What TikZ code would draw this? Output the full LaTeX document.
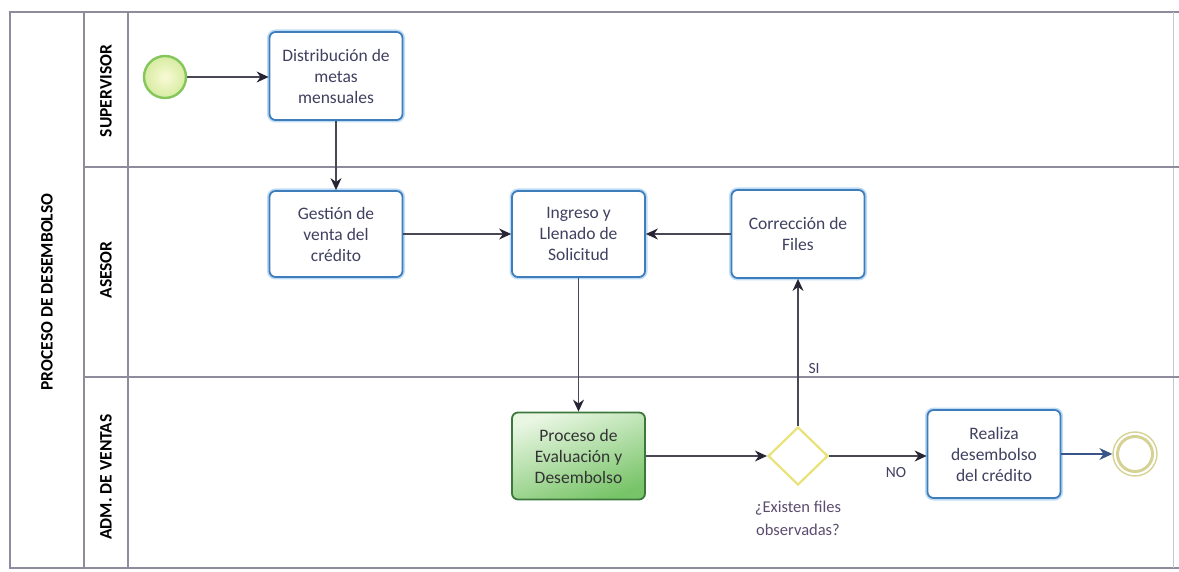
\documentclass[tikz,border=0pt]{standalone}
\usepackage{fontspec}
\setmainfont{Carlito}
\usetikzlibrary{arrows.meta,shapes.geometric,calc}

\definecolor{poolline}{RGB}{140,140,156}
\definecolor{taskblue}{RGB}{62,124,186}
\definecolor{taskglow}{RGB}{190,220,245}
\definecolor{tasktext}{RGB}{64,64,96}
\definecolor{flowline}{RGB}{72,72,84}
\definecolor{tipcolor}{RGB}{40,36,52}
\definecolor{greenedge}{RGB}{60,120,60}
\definecolor{greenlight}{RGB}{232,246,226}
\definecolor{greendark}{RGB}{120,196,104}
\definecolor{startedge}{RGB}{132,198,92}
\definecolor{startin}{RGB}{250,250,214}
\definecolor{startout}{RGB}{214,236,160}
\definecolor{endring}{RGB}{214,210,150}
\definecolor{gwedge}{RGB}{232,226,120}
\definecolor{labeltext}{RGB}{90,76,110}
\definecolor{endarrow}{RGB}{56,84,136}

\tikzset{
  lanetitle/.style={font=\fontsize{17.5}{19}\selectfont\bfseries, text=black, rotate=90},
  taskbox/.style={draw=taskblue, line width=1.8pt, rounded corners=6pt, fill=white,
    minimum width=133pt, minimum height=87pt, align=center, text=tasktext,
    font=\fontsize{17.5}{21}\selectfont, inner sep=2pt,
    preaction={draw=taskglow, line width=5pt}},
  subbox/.style={draw=greenedge, line width=1.8pt, rounded corners=6pt,
    top color=greenlight, bottom color=greendark, shading angle=20,
    minimum width=133pt, minimum height=87pt, align=center, text=black!80,
    font=\fontsize{17.5}{21}\selectfont, inner sep=2pt},
  gateway/.style={diamond, draw=gwedge, line width=2.2pt, fill=white,
    minimum width=60pt, minimum height=58pt, inner sep=0pt},
  flow/.style={draw=flowline, line width=1.3pt, -{Stealth[length=12pt,width=11pt,color=tipcolor]}},
  flowlabel/.style={font=\fontsize{15.5}{18}\selectfont, text=tasktext},
  lane/.style={draw=poolline, line width=1.5pt}
}

\begin{document}
\begin{tikzpicture}[x=1pt,y=-1pt]
\useasboundingbox (0,0) rectangle (1179,572);

% pool and lanes
\draw[lane] (1179,12) -- (10,12) -- (10,568) -- (1179,568);
\draw[draw=poolline!50, line width=1pt] (1173,12) -- (1173,568);
\draw[lane] (84,12) -- (84,568);
\draw[lane] (128,12) -- (128,568);
\draw[lane] (84,167) -- (1179,167);
\draw[lane] (84,377) -- (1179,377);

\node[lanetitle] (pooltitle) at (47,292) {PROCESO DE DESEMBOLSO};
\node[lanetitle] (supervisor) at (106,91) {SUPERVISOR};
\node[lanetitle] (asesor) at (106,270) {ASESOR};
\node[lanetitle] (admventas) at (106,477) {ADM. DE VENTAS};

% events
\node[circle, draw=startedge, line width=2.4pt, inner color=startin, outer color=startout,
      minimum size=42pt, inner sep=0pt] (start) at (165,77) {};
\node[circle, draw=endring, line width=1.4pt, minimum size=44pt, inner sep=0pt] (end) at (1135,454) {};
\draw[draw=endring, line width=3pt] (end.center) circle (17.5pt);

% tasks
\node[taskbox, minimum height=88pt] (dist) at (336,76) {Distribución de\\metas\\mensuales};
\node[taskbox, minimum height=86pt] (gest) at (336,234) {Gestión de\\venta del\\crédito};
\node[taskbox, minimum height=86pt] (ing) at (578.5,234) {Ingreso y\\Llenado de\\Solicitud};
\node[taskbox, minimum height=88pt] (corr) at (798,234) {Corrección de\\Files};
\node[subbox] (proc) at (578.5,456) {Proceso de\\Evaluación y\\Desembolso};
\node[taskbox, minimum height=88pt] (real) at (994,454) {Realiza\\desembolso\\del crédito};

% gateway
\node[gateway] (gw) at (798,456) {};
\node[align=center, text=labeltext, font=\fontsize{16.5}{23}\selectfont, anchor=north]
  (gwlabel) at (798,498) {¿Existen files\\observadas?};

% sequence flows
\draw[flow] (start.east) -- (dist.west |- start.east);
\draw[flow] (dist.south) -- (gest.north);
\draw[flow] (gest.east) -- (ing.west);
\draw[flow] (corr.west) -- (ing.east);
\draw[flow] (ing.south) -- (proc.north);
\draw[flow] (proc.east) -- (gw.west);
\draw[flow] (gw.north) -- (corr.south);
\draw[flow] (gw.east) -- (gw.east -| real.west);
\draw[draw=endarrow, line width=1.5pt, -{Stealth[length=13pt,width=12pt]}] (real.east |- end.west) -- (end.west);

\node[flowlabel, anchor=west] (si) at (805,369) {SI};
\node[flowlabel] (no) at (896,473) {NO};
\end{tikzpicture}
\end{document}
